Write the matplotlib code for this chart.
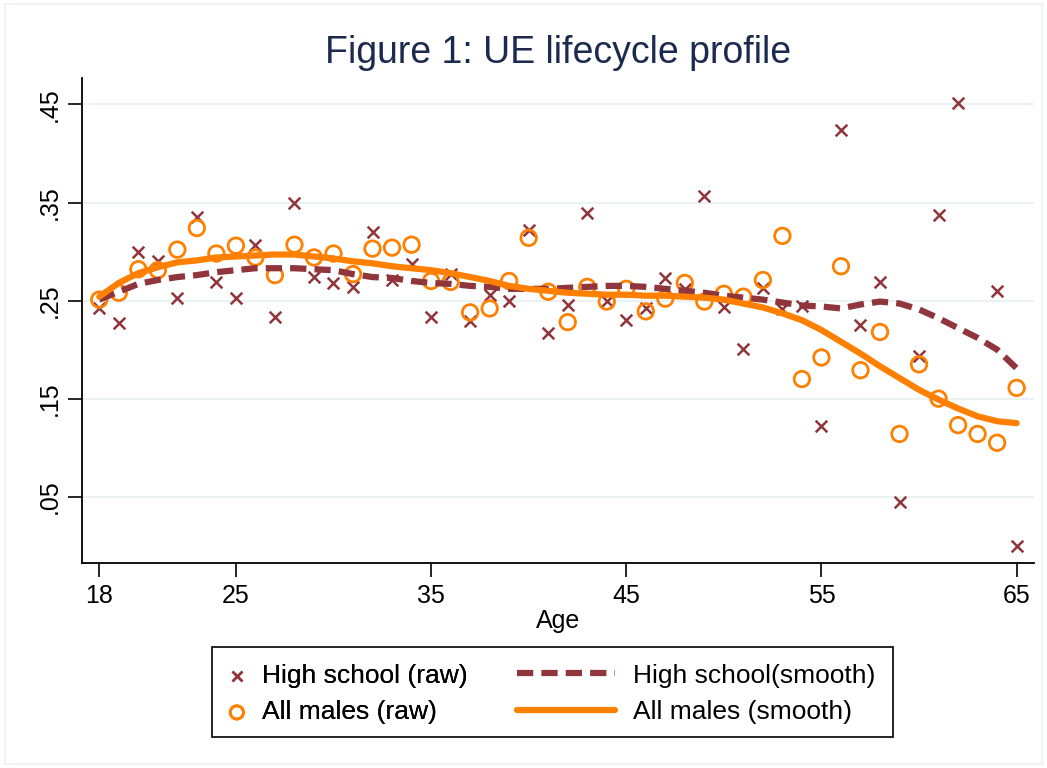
import numpy as np
import matplotlib
matplotlib.use("Agg")
import matplotlib.pyplot as plt
from matplotlib.patches import Rectangle

plt.rcParams['font.family'] = ['Liberation Sans', 'DejaVu Sans']

ages = list(range(18, 66))

hs_raw = [0.242, 0.227, 0.300, 0.290, 0.253, 0.335, 0.269, 0.253, 0.307, 0.233,
          0.350, 0.274, 0.268, 0.264, 0.320, 0.271, 0.287, 0.233, 0.277, 0.229,
          0.256, 0.250, 0.322, 0.217, 0.245, 0.339, 0.250, 0.230, 0.242, 0.273,
          0.262, 0.357, 0.243, 0.201, 0.263, 0.241, 0.244, 0.122, 0.424, 0.225,
          0.269, 0.045, 0.194, 0.337, 0.452, np.nan, 0.260, 0.000]

all_raw = [0.251, 0.258, 0.282, 0.281, 0.302, 0.324, 0.298, 0.306, 0.294, 0.276,
           0.307, 0.294, 0.298, 0.277, 0.303, 0.304, 0.307, 0.270, 0.269, 0.238,
           0.242, 0.270, 0.314, 0.259, 0.228, 0.264, 0.249, 0.262, 0.239, 0.252,
           0.268, 0.249, 0.257, 0.254, 0.271, 0.316, 0.170, 0.192, 0.285, 0.179,
           0.218, 0.114, 0.185, 0.150, 0.123, 0.114, 0.105, 0.161]

hs_smooth = [0.251, 0.259, 0.267, 0.271, 0.274, 0.276, 0.279, 0.281, 0.283, 0.283,
             0.283, 0.282, 0.281, 0.277, 0.274, 0.273, 0.270, 0.268, 0.267, 0.265,
             0.264, 0.262, 0.262, 0.262, 0.263, 0.264, 0.265, 0.265, 0.264, 0.262,
             0.260, 0.258, 0.255, 0.253, 0.251, 0.248, 0.245, 0.244, 0.242, 0.246,
             0.249, 0.247, 0.241, 0.232, 0.222, 0.212, 0.200, 0.181]

all_smooth = [0.254, 0.268, 0.278, 0.284, 0.289, 0.291, 0.294, 0.295, 0.296, 0.297,
              0.297, 0.295, 0.293, 0.290, 0.288, 0.285, 0.283, 0.281, 0.278, 0.274,
              0.270, 0.265, 0.262, 0.260, 0.258, 0.257, 0.256, 0.256, 0.255, 0.255,
              0.254, 0.253, 0.251, 0.247, 0.243, 0.237, 0.230, 0.220, 0.208, 0.196,
              0.183, 0.171, 0.159, 0.149, 0.140, 0.132, 0.127, 0.125]

x_ticks = [18, 25, 35, 45, 55, 65]
y_ticks = [0.05, 0.15, 0.25, 0.35, 0.45]
y_tick_labels = ['.05', '.15', '.25', '.35', '.45']

maroon = '#90353b'
orange = '#ff8000'
grid_c = '#eaf2f3'

W, H = 1047, 768
fig = plt.figure(figsize=(W / 100, H / 100), dpi=100)
fig.patches.append(Rectangle((5/W, 4/H), 1 - 10/W, 1 - 8/H,
                             transform=fig.transFigure, fill=False,
                             edgecolor=grid_c, linewidth=1.2))
ax = fig.add_axes([82.3/W, 1 - 562.7/H, (1034 - 82.3)/W, (562.7 - 78)/H])

ax.scatter(ages, hs_raw, marker='x', s=70, color=maroon, linewidths=1.8,
           label='High school (raw)', zorder=3)
ax.scatter(ages, all_raw, marker='o', s=125, facecolors='none', edgecolors=orange,
           linewidths=2.0, label='All males (raw)', zorder=3)
ax.plot(ages, hs_smooth, color=maroon, linewidth=4.5, linestyle=(0, (2.6, 1.3)),
        label='High school(smooth)', zorder=4)
ax.plot(ages, all_smooth, color=orange, linewidth=4.5, solid_capstyle='round',
        label='All males (smooth)', zorder=5)

ax.set_xlim(17.13, 65.89)
ax.set_ylim(-0.0173, 0.477)
ax.set_xticks(x_ticks)
ax.set_yticks(y_ticks)
ax.set_yticklabels(y_tick_labels, rotation=90, va='center')
ax.tick_params(axis='both', direction='out', length=10, width=1.2, labelsize=18,
               colors='black', pad=5)
ax.grid(axis='y', color=grid_c, linewidth=1.5)
ax.set_axisbelow(True)
for s in ['top', 'right']:
    ax.spines[s].set_visible(False)
for s in ['left', 'bottom']:
    ax.spines[s].set_linewidth(1.3)

ax.set_xlabel('Age', fontsize=18, labelpad=1)
ax.set_title('Figure 1: UE lifecycle profile', fontsize=27, color='#1c2a4e', pad=11)

h, l = ax.get_legend_handles_labels()
fig.patches.append(Rectangle((212/W, 1 - 737/H), (893 - 212)/W, 90/H,
                             transform=fig.transFigure, fill=False,
                             edgecolor='black', linewidth=1.2, zorder=10))
common = dict(loc='center left', fontsize=19, frameon=False, borderpad=0,
              borderaxespad=0, labelspacing=0.48)
leg1 = fig.legend([h[0], h[1]], [l[0], l[1]], bbox_to_anchor=(221/W, 1 - 694/H),
                  handlelength=1.2, handletextpad=0.35, markerscale=0.85, **common)
fig.add_artist(leg1)
leg2 = fig.legend([h[2], h[3]], [l[2], l[3]], bbox_to_anchor=(517/W, 1 - 694/H),
                  handlelength=3.7, handletextpad=0.68, **common)

fig.savefig('out.png', dpi=100, facecolor='white')
